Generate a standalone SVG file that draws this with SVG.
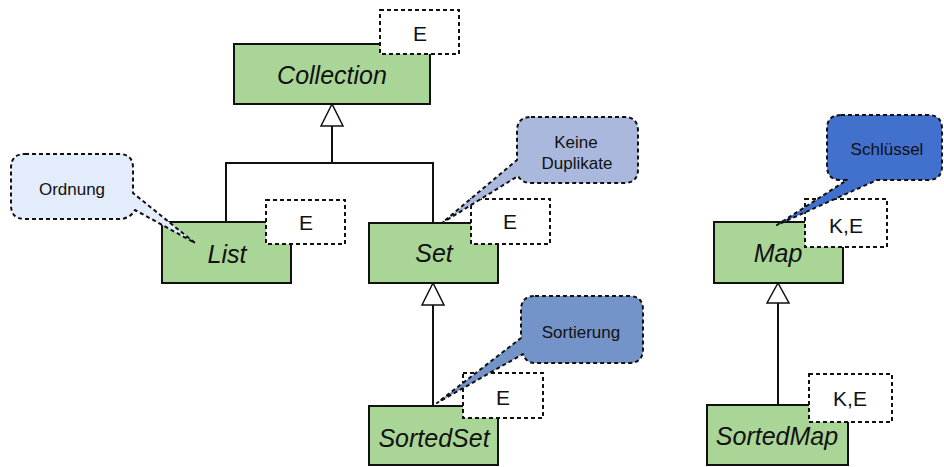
<svg xmlns="http://www.w3.org/2000/svg" width="944" height="467" viewBox="0 0 944 467">
<style>
.cls{fill:#a9d596;stroke:#111;stroke-width:2}
.cn{font-family:"Liberation Sans",Arial,sans-serif;font-style:italic;font-size:25px;fill:#111;text-anchor:middle}
.tp{fill:#fff;stroke:#111;stroke-width:2;stroke-dasharray:4,3}
.tt{font-family:"Liberation Sans",Arial,sans-serif;font-size:21px;fill:#111;text-anchor:middle}
.co{stroke:#111;stroke-width:2;stroke-dasharray:4,3;stroke-linejoin:round}
.ct{font-family:"Liberation Sans",Arial,sans-serif;font-size:17px;fill:#111;text-anchor:middle}
.ln{fill:none;stroke:#111;stroke-width:2}
.ar{fill:#fff;stroke:#111;stroke-width:1.5}
</style>
<g id="connectors">
<path class="ln" d="M332,126 V163 M226,222 V163 H433 V223"/>
<polygon class="ar" points="332,104 321,126 343,126"/>
<path class="ln" d="M433,305 V406"/>
<polygon class="ar" points="433,283 422,305 444,305"/>
<path class="ln" d="M778,303 V405"/>
<polygon class="ar" points="778,283 767,303 789,303"/>
</g>
<g id="collection">
<rect class="cls" x="234" y="44" width="196" height="60"/>
<text class="cn" x="332" y="84">Collection</text>
<rect class="tp" x="380" y="10" width="79" height="44"/>
<text class="tt" x="420" y="41">E</text>
</g>
<g id="list">
<rect class="cls" x="162" y="222" width="129" height="61"/>
<text class="cn" x="227" y="263">List</text>
<rect class="tp" x="266" y="200" width="79" height="44"/>
<text class="tt" x="306" y="230">E</text>
</g>
<g id="set">
<rect class="cls" x="369" y="223" width="129" height="60"/>
<text class="cn" x="434" y="262">Set</text>
<rect class="tp" x="471" y="199" width="79" height="45"/>
<text class="tt" x="510" y="229">E</text>
</g>
<g id="sortedset">
<rect class="cls" x="369" y="406" width="129" height="59"/>
<text class="cn" x="434" y="447">SortedSet</text>
<rect class="tp" x="463" y="373" width="80" height="45"/>
<text class="tt" x="503" y="405">E</text>
</g>
<g id="map">
<rect class="cls" x="714" y="222" width="129" height="61"/>
<text class="cn" x="778" y="262">Map</text>
<rect class="tp" x="805" y="199" width="82" height="48"/>
<text class="tt" x="846" y="233">K,E</text>
</g>
<g id="sortedmap">
<rect class="cls" x="707" y="405" width="141" height="60"/>
<text class="cn" x="777" y="445">SortedMap</text>
<rect class="tp" x="809" y="374" width="83" height="48"/>
<text class="tt" x="850" y="406">K,E</text>
</g>
<g id="note-ordnung">
<path class="co" fill="#e3ecfb" d="M25,154 H119 Q133,154 133,168 V193 L195,243 L135,210 Q130,219 119,219 H25 Q11,219 11,205 V168 Q11,154 25,154 Z"/>
<text class="ct" x="72" y="195">Ordnung</text>
</g>
<g id="note-duplikate">
<path class="co" fill="#a9b8dc" d="M531,117 H624 Q638,117 638,131 V169 Q638,183 624,183 H531 Q522,183 518,176 L442,223 L517,160 V131 Q517,117 531,117 Z"/>
<text class="ct" x="576" y="148">Keine</text>
<text class="ct" x="577" y="169">Duplikate</text>
</g>
<g id="note-sortierung">
<path class="co" fill="#7393c9" d="M535,296 H629 Q643,296 643,310 V349 Q643,363 629,363 H535 Q526,363 523,354 L437,403 L521,338 V310 Q521,296 535,296 Z"/>
<text class="ct" x="581" y="338">Sortierung</text>
</g>
<g id="note-schluessel">
<path class="co" fill="#4170cd" d="M841,115 H928 Q942,115 942,129 V166 Q942,180 928,180 H877 L777,225 L847,180 H841 Q827,180 827,166 V129 Q827,115 841,115 Z"/>
<text class="ct" x="887" y="155">Schlüssel</text>
</g>
</svg>
